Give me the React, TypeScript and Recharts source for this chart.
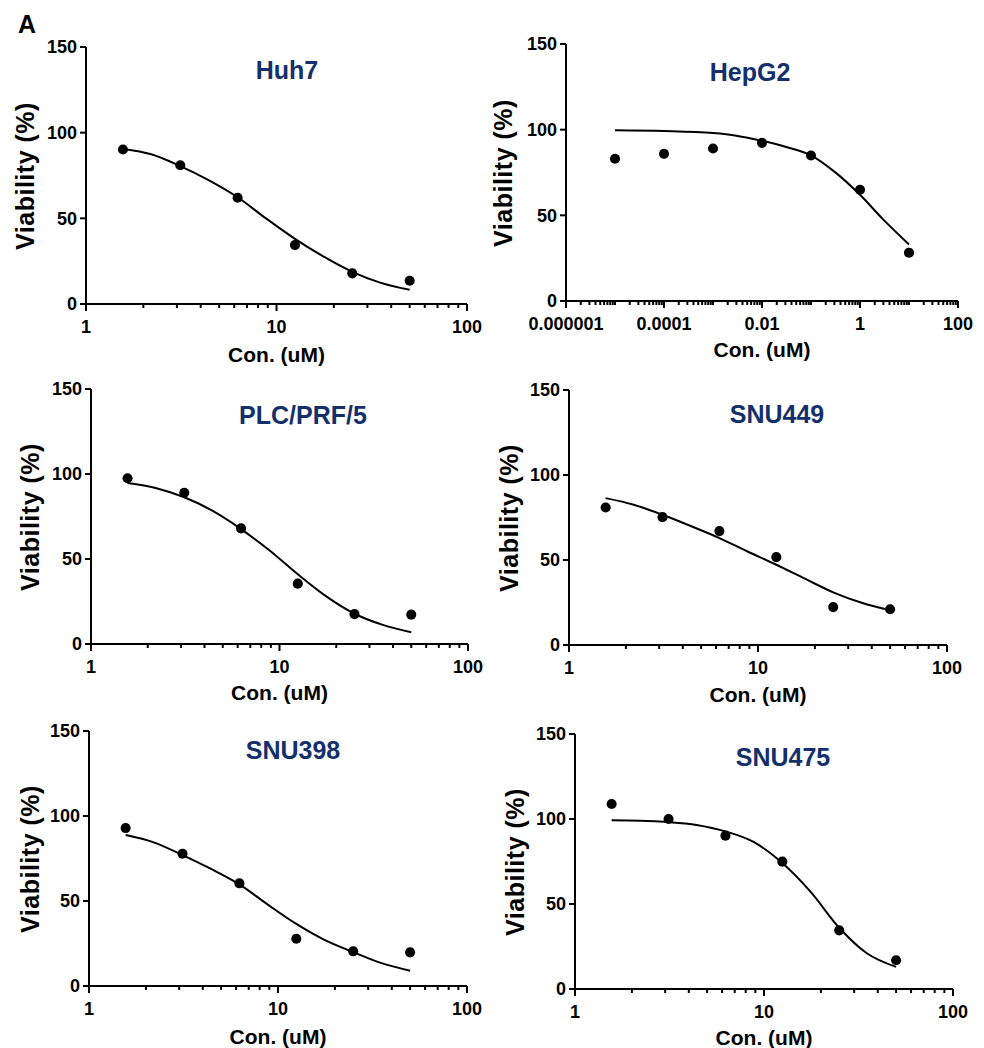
import { ComposedChart, Line, Scatter, XAxis, YAxis, ZAxis } from "recharts";

const FONT = '"Liberation Sans", Arial, Helvetica, sans-serif';
const NAVY = "#14306c";

// concentrations tested (uM)
const conc = [1.5625, 3.125, 6.25, 12.5, 25, 50];
const hepConc = [0.00001, 0.0001, 0.001, 0.01, 0.1, 1, 10];

// x positions where the fitted curves were read
const fitConc = [1.5625, 2.2, 3.125, 4.4, 6.25, 8.8, 12.5, 17.7, 25, 35, 50];
const hepFitConc = [0.00001, 0.0001, 0.001, 0.003, 0.01, 0.03, 0.1, 0.3, 1, 3, 10];

// measured viability (%)
const huh7Pts = [90.2, 81.0, 62.0, 34.4, 17.9, 13.6];
const hepg2Pts = [83.0, 85.9, 89.0, 92.3, 84.9, 64.9, 28.2];
const plcPts = [97.5, 89.0, 68.0, 35.5, 17.6, 17.3];
const snu449Pts = [80.9, 75.2, 67.0, 51.7, 22.3, 21.0];
const snu398Pts = [92.9, 77.8, 60.4, 27.8, 20.4, 19.8];
const snu475Pts = [108.8, 100.0, 90.2, 74.9, 34.5, 16.9];

// fitted dose-response curves (%)
const huh7Fit = [90.5, 87.4, 80.5, 72.3, 62.3, 50.0, 38.0, 27.6, 18.8, 12.5, 8.3];
const hepg2Fit = [99.6, 99.2, 98.0, 96.5, 93.5, 90.0, 85.0, 75.5, 62.0, 47.5, 33.0];
const plcFit = [94.7, 91.8, 86.3, 78.4, 67.6, 55.3, 41.0, 28.0, 17.8, 11.4, 6.9];
const snu449Fit = [86.4, 82.5, 76.6, 70.0, 62.9, 55.0, 47.2, 39.0, 31.0, 25.0, 20.4];
const snu398Fit = [88.8, 84.5, 77.0, 69.0, 59.8, 48.0, 36.5, 27.0, 20.0, 13.6, 9.0];
const snu475Fit = [99.2, 99.0, 98.2, 96.5, 92.7, 86.5, 74.1, 57.0, 36.0, 21.0, 13.0];

const yTicks = [0, 50, 100, 150];
const majors1 = [1, 10, 100];
const labels1 = ["1", "10", "100"];
const hepMajors = [0.000001, 0.0001, 0.01, 1, 100];
const hepLabels = ["0.000001", "0.0001", "0.01", "1", "100"];

// log axis tick marks: every decade plus 2..9 in between
function logTicks(loExp: number, hiExp: number) {
  const out: number[] = [];
  for (let e = loExp; e < hiExp; e++) {
    for (let m = 1; m < 10; m++) out.push(m * Math.pow(10, e));
  }
  out.push(Math.pow(10, hiExp));
  return out;
}

const ticks1 = logTicks(0, 2);
const hepTicks = logTicks(-6, 2);

function XTick(props: any) {
  const { x, y, payload, majors, labels } = props;
  const i = majors.findIndex(
    (m: number) => Math.abs(Math.log10(m) - Math.log10(payload.value)) < 1e-6
  );
  const major = i >= 0;
  return (
    <g>
      <line x1={x} x2={x} y1={y} y2={y + (major ? 7 : 4)} stroke="#000" strokeWidth={2} />
      {major && (
        <text
          x={x}
          y={y + 29}
          textAnchor="middle"
          fontSize={18}
          fontWeight="bold"
          fontFamily={FONT}
          fill="#000"
        >
          {labels[i]}
        </text>
      )}
    </g>
  );
}

const panels = [
  { title: "Huh7", xs: conc, ys: huh7Pts, fx: fitConc, fy: huh7Fit, domain: [1, 100], ticks: ticks1, majors: majors1, labels: labels1, plot: [86, 47, 467, 304], titleAt: [287, 70], yLabelX: 25, xLabelY: 355 },
  { title: "HepG2", xs: hepConc, ys: hepg2Pts, fx: hepFitConc, fy: hepg2Fit, domain: [0.000001, 100], ticks: hepTicks, majors: hepMajors, labels: hepLabels, plot: [566, 44, 958, 301], titleAt: [750, 72], yLabelX: 503, xLabelY: 350 },
  { title: "PLC/PRF/5", xs: conc, ys: plcPts, fx: fitConc, fy: plcFit, domain: [1, 100], ticks: ticks1, majors: majors1, labels: labels1, plot: [91, 389, 468, 644], titleAt: [303, 415], yLabelX: 30, xLabelY: 693 },
  { title: "SNU449", xs: conc, ys: snu449Pts, fx: fitConc, fy: snu449Fit, domain: [1, 100], ticks: ticks1, majors: majors1, labels: labels1, plot: [569, 390, 947, 645], titleAt: [777, 414], yLabelX: 509, xLabelY: 695 },
  { title: "SNU398", xs: conc, ys: snu398Pts, fx: fitConc, fy: snu398Fit, domain: [1, 100], ticks: ticks1, majors: majors1, labels: labels1, plot: [89, 731, 467, 986], titleAt: [293, 750], yLabelX: 30, xLabelY: 1037 },
  { title: "SNU475", xs: conc, ys: snu475Pts, fx: fitConc, fy: snu475Fit, domain: [1, 100], ticks: ticks1, majors: majors1, labels: labels1, plot: [575, 734, 953, 989], titleAt: [783, 757], yLabelX: 515, xLabelY: 1038 },
];

const PAD_L = 80;
const PAD_T = 20;
const PAD_R = 25;
const PAD_B = 45;

function Panel({ p }: { p: (typeof panels)[number] }) {
  const [l, t, r, b] = p.plot;
  const points = p.xs.map((c, i) => ({ c, v: p.ys[i] }));
  const fit = p.fx.map((c, i) => ({ c, v: p.fy[i] }));
  return (
    <>
      <div style={{ position: "absolute", left: l - PAD_L, top: t - PAD_T }}>
        <ComposedChart
          width={r - l + PAD_L + PAD_R}
          height={b - t + PAD_T + PAD_B}
          margin={{ top: PAD_T, right: PAD_R, bottom: 0, left: 0 }}
        >
          <XAxis
            dataKey="c"
            type="number"
            scale="log"
            domain={p.domain}
            ticks={p.ticks}
            interval={0}
            allowDataOverflow
            height={PAD_B}
            tickSize={0}
            tickMargin={0}
            tickLine={false}
            axisLine={{ stroke: "#000", strokeWidth: 2 }}
            tick={<XTick majors={p.majors} labels={p.labels} />}
          />
          <YAxis
            type="number"
            domain={[0, 150]}
            ticks={yTicks}
            interval={0}
            width={PAD_L}
            tickSize={6}
            tickMargin={3}
            axisLine={{ stroke: "#000", strokeWidth: 2 }}
            tickLine={{ stroke: "#000", strokeWidth: 2 }}
            tick={{ fill: "#000", fontSize: 18, fontWeight: "bold", fontFamily: FONT }}
          />
          <ZAxis range={[80, 80]} />
          <Line
            data={fit}
            dataKey="v"
            type="monotone"
            stroke="#000"
            strokeWidth={2}
            dot={false}
            isAnimationActive={false}
          />
          <Scatter data={points} dataKey="v" fill="#000" isAnimationActive={false} />
        </ComposedChart>
      </div>
      <div
        style={{
          position: "absolute",
          left: p.titleAt[0],
          top: p.titleAt[1],
          transform: "translate(-50%, -50%)",
          color: NAVY,
          fontSize: 25,
          fontWeight: "bold",
          whiteSpace: "nowrap",
        }}
      >
        {p.title}
      </div>
      <div
        style={{
          position: "absolute",
          left: p.yLabelX,
          top: (t + b) / 2,
          transform: "translate(-50%, -50%) rotate(-90deg)",
          fontSize: 25,
          letterSpacing: 0.5,
          fontWeight: "bold",
          whiteSpace: "nowrap",
        }}
      >
        Viability (%)
      </div>
      <div
        style={{
          position: "absolute",
          left: (l + r) / 2,
          top: p.xLabelY,
          transform: "translate(-50%, -50%)",
          fontSize: 21,
          fontWeight: "bold",
          whiteSpace: "nowrap",
        }}
      >
        Con. (uM)
      </div>
    </>
  );
}

export default function App() {
  return (
    <div
      style={{
        position: "absolute",
        left: 0,
        top: 0,
        width: 984,
        height: 1048,
        background: "#fff",
        fontFamily: FONT,
        color: "#000",
      }}
    >
      <div style={{ position: "absolute", left: 18, top: 12, fontSize: 25, fontWeight: "bold", lineHeight: 1 }}>
        A
      </div>
      {panels.map((p) => (
        <Panel key={p.title} p={p} />
      ))}
    </div>
  );
}
